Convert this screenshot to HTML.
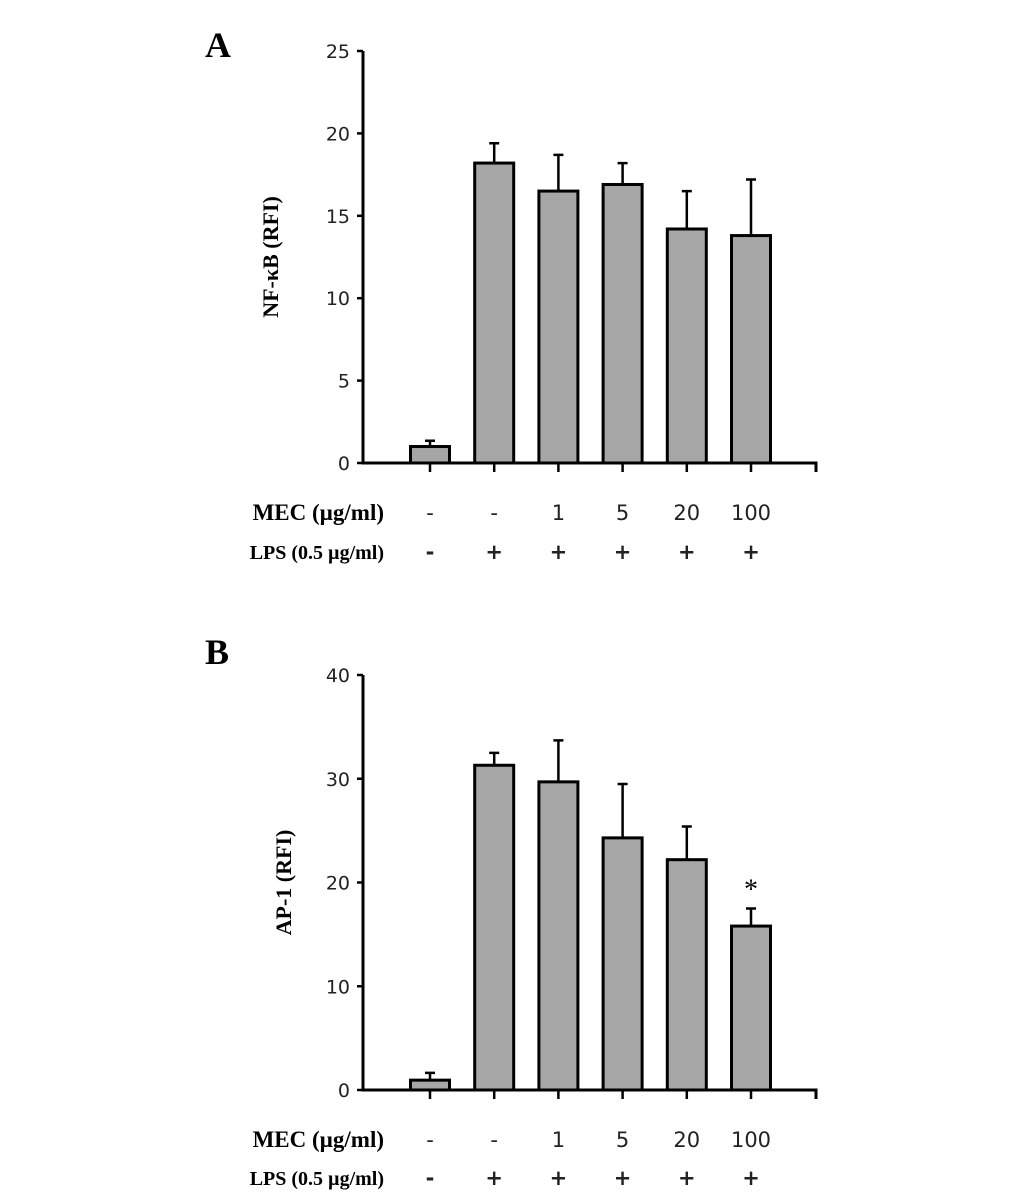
<!DOCTYPE html>
<html><head><meta charset="utf-8"><style>
body{margin:0;background:#fff}
svg{display:block}
.tk{font-family:"DejaVu Sans","Liberation Sans",sans-serif;font-size:19px;fill:#222}
.lb{font-family:"Liberation Serif",serif;font-weight:bold;font-size:20px;fill:#000}
</style></head><body>
<svg id="fig" width="1033" height="1199" viewBox="0 0 1033 1199">
<text x="205" y="57" font-family="Liberation Serif" font-weight="bold" font-size="36">A</text>
<text x="205" y="664" font-family="Liberation Serif" font-weight="bold" font-size="36">B</text>
</svg>
<script>
const mecLabels = ["-","-","1","5","20","100"];
const lpsLabels = ["-","+","+","+","+","+"];
const nfkbValues = [1.0,18.2,16.5,16.9,14.2,13.8];
const nfkbErrors = [0.35,1.2,2.2,1.3,2.3,3.4];
const nfkbTicks = [0,5,10,15,20,25];
const ap1Values = [0.95,31.3,29.7,24.3,22.2,15.8];
const ap1Errors = [0.7,1.2,4.0,5.2,3.2,1.7];
const ap1Ticks = [0,10,20,30,40];
const ap1Stars = ["","","","","","*"];

const NS="http://www.w3.org/2000/svg";
const svg=document.getElementById('fig');
function mk(tag,attrs,parent){const e=document.createElementNS(NS,tag);for(const k in attrs)e.setAttribute(k,attrs[k]);(parent||svg).appendChild(e);return e;}

function chart(cfg){
  const g=mk('g',{});
  
  
  const ax=363, xEnd=816, y0=cfg.y0, yTop=cfg.yTop, max=cfg.ticks[cfg.ticks.length-1];
  const y=v=>y0-(v/max)*(y0-yTop);
  const x=i=>430+i*64.2;
  const axis=mk('path',{d:`M${ax} ${yTop} V${y0} H${xEnd} v9`,stroke:'#000','stroke-width':3,fill:'none'},g);
  
  
  cfg.ticks.forEach(t=>{
    const l=mk('line',{x1:ax-6,x2:ax,y1:y(t),y2:y(t),stroke:'#000','stroke-width':2.5},g);
    
    
    const tx=mk('text',{x:ax-13,y:y(t)+7,'text-anchor':'end',class:'tk'},g);
    tx.textContent=t;
    
    
  });
  cfg.values.forEach((v,i)=>{
    const cx=x(i);
    const tk=mk('line',{x1:cx,x2:cx,y1:y0,y2:y0+9,stroke:'#000','stroke-width':2.5},g);
    
    
    const e=cfg.errors[i], ey=y(v+e);
    const el=mk('path',{d:`M${cx} ${y(v)} V${ey} M${cx-5} ${ey} H${cx+5}`,stroke:'#000','stroke-width':2.5,fill:'none'},g);
    
    
    const r=mk('rect',{x:cx-19.5,y:y(v),width:39,height:y0-y(v),fill:'#a6a6a6',stroke:'#000','stroke-width':3},g);
    
    
    if(cfg.stars && cfg.stars[i]){
      const s=mk('text',{x:cx,y:ey-10,'text-anchor':'middle','font-family':'Liberation Serif','font-size':28},g);
      s.textContent=cfg.stars[i];
      
      
    }
    const m=mk('text',{x:cx,y:cfg.rowY[0],'text-anchor':'middle',class:'tk',style:'font-size:21px'},g);
    m.textContent=mecLabels[i];
    
    
    const p=mk('text',{x:cx,y:cfg.rowY[1],'text-anchor':'middle',class:'tk',style:'font-size:21px;font-weight:bold'},g);
    p.textContent=lpsLabels[i];
    
    
  });
  const r1=mk('text',{x:384,y:cfg.rowY[0],'text-anchor':'end',class:'lb',style:'font-size:23px'},g);
  r1.textContent='MEC (µg/ml)';
  
  
  const r2=mk('text',{x:384,y:cfg.rowY[1],'text-anchor':'end',class:'lb'},g);
  r2.textContent='LPS (0.5 µg/ml)';
  
  
  const yt=mk('text',{x:0,y:0,'text-anchor':'middle',class:'lb',style:'font-size:22px',transform:`translate(${cfg.titleX},${(y0+yTop)/2}) rotate(-90)`},g);
  yt.textContent=cfg.title;
  
  
}
chart({name:'chart-nfkb',values:nfkbValues,errors:nfkbErrors,ticks:nfkbTicks,y0:463,yTop:51,rowY:[520,559],title:'NF-κB (RFI)',titleX:278});
chart({name:'chart-ap1',values:ap1Values,errors:ap1Errors,ticks:ap1Ticks,stars:ap1Stars,y0:1090,yTop:675,rowY:[1147,1185],title:'AP-1 (RFI)',titleX:291});
</script>
</body></html>
